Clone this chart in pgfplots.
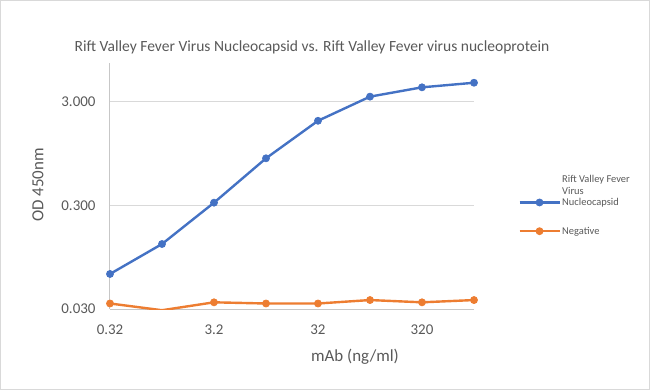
\documentclass[border=0pt]{standalone}
\usepackage{fontspec}
\setmainfont{Carlito}
\usepackage{pgfplots}
\pgfplotsset{compat=1.18}
\definecolor{xlblue}{HTML}{4472C4}
\definecolor{xlorange}{HTML}{ED7D31}
\definecolor{txt}{HTML}{595959}
\definecolor{grd}{HTML}{D9D9D9}
\begin{document}
\begin{tikzpicture}
\path (0bp,0bp) rectangle (650bp,390bp);
\draw[grd, line width=0.75bp] (0.5bp,0.5bp) rectangle (649.5bp,389.5bp);
\begin{axis}[
  at={(110bp,81bp)}, anchor=south west,
  scale only axis, width=364bp, height=246bp,
  xmode=log, ymode=log,
  xmin=0.32, xmax=1012, ymin=0.03, ymax=7.07,
  axis lines=left,
  axis line style={grd!80!gray, line width=1bp, -},
  ymajorgrids, grid style={grd, line width=1bp},
  xtick={0.32,3.2,32,320}, xticklabels={0.32,3.2,32,320},
  ytick={0.03,0.3,3}, yticklabels={0.030,0.300,3.000},
  xminorticks=false, yminorticks=false,
  major tick length=0pt, minor tick length=0pt,
  tick label style={font=\fontsize{15}{17}\selectfont, text=txt},
  /pgf/number format/assume math mode=true,
  xticklabel style={yshift=-12bp},
  yticklabel style={xshift=-11bp},
  legend cell align=left,
  legend style={at={(1.113,0.567)}, anchor=north west, draw=none, fill=none,
    font=\fontsize{10.5}{12}\selectfont, text=txt, row sep=16bp,
    cells={anchor=base west},
    nodes={inner xsep=1.5bp}},
  legend image code/.code={\draw[#1, mark repeat=2, mark phase=2] plot coordinates {(0bp,3.5bp) (20bp,3.5bp) (40bp,3.5bp)};},
]
\addplot[xlblue, line width=2.4bp, mark=*, mark size=3.5bp, mark options={fill=xlblue, draw=xlblue, line width=0.8bp}]
  coordinates {(0.32,0.0653) (1.012,0.127) (3.2,0.318) (10.12,0.852) (32,1.96) (101.2,3.35) (320,4.12) (1012,4.56)};
\addlegendentry{\begin{tabular}[b]{@{}l@{}}Rift Valley Fever\\Virus\\Nucleocapsid\end{tabular}}
\addplot[xlorange, line width=2.4bp, mark=*, mark size=3.5bp, mark options={fill=xlorange, draw=xlorange, line width=0.8bp}]
  coordinates {(0.32,0.0339) (1.012,0.0292) (3.2,0.0348) (10.12,0.0339) (32,0.0339) (101.2,0.0366) (320,0.0348) (1012,0.0366)};
\addlegendentry{Negative}
\end{axis}
\node[font=\fontsize{15.6}{17}\selectfont, text=txt] at (312bp,343bp) {Rift Valley Fever Virus Nucleocapsid vs. Rift Valley Fever virus nucleoprotein};
\node[font=\fontsize{17}{19}\selectfont, text=txt] at (355bp,33bp) {mAb (ng/ml)};
\node[font=\fontsize{17}{19}\selectfont, text=txt, rotate=90] at (38bp,205bp) {OD 450nm};
\end{tikzpicture}
\end{document}
